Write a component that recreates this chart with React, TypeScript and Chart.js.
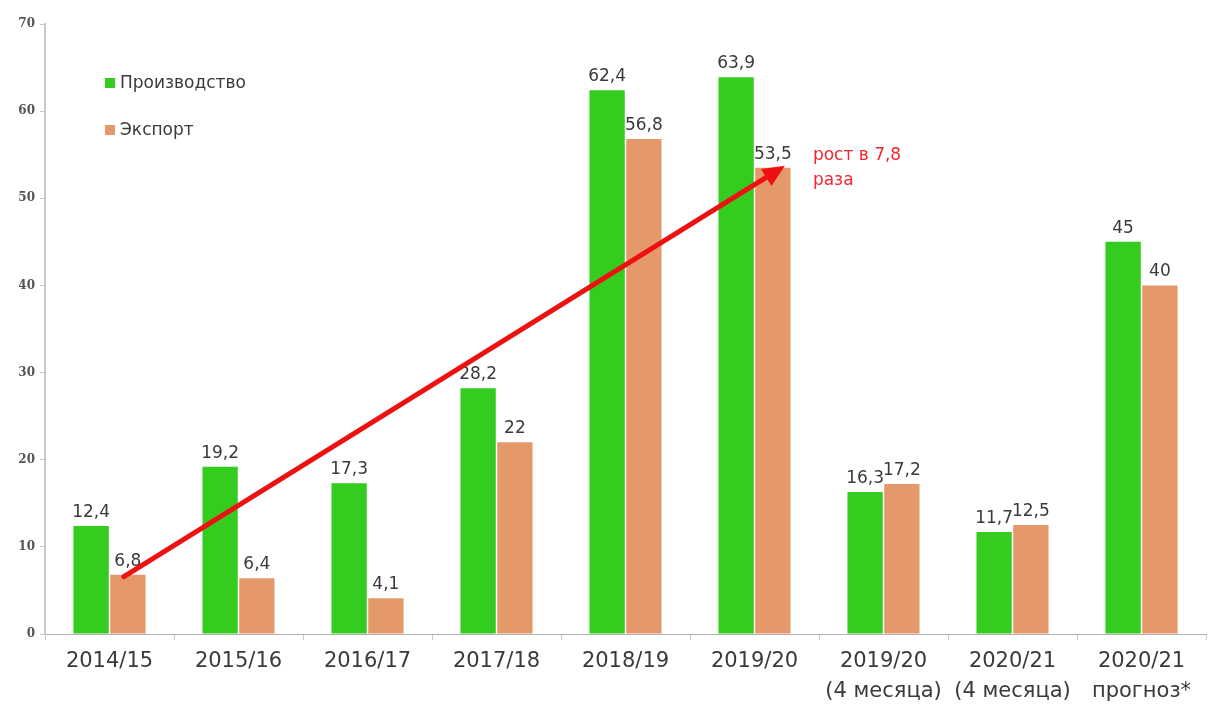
import React, { useEffect, useRef } from "react";
import { Chart, registerables } from "chart.js";

Chart.register(...registerables);

const categories: string[][] = [
  ["2014/15"],
  ["2015/16"],
  ["2016/17"],
  ["2017/18"],
  ["2018/19"],
  ["2019/20"],
  ["2019/20", "(4 месяца)"],
  ["2020/21", "(4 месяца)"],
  ["2020/21", "прогноз*"],
];
const production: number[] = [12.4, 19.2, 17.3, 28.2, 62.4, 63.9, 16.3, 11.7, 45];
const exportVals: number[] = [6.8, 6.4, 4.1, 22, 56.8, 53.5, 17.2, 12.5, 40];
const seriesNames: string[] = ["Производство", "Экспорт"];
const arrowFrom = { dataset: 1, index: 0 };
const arrowTo = { dataset: 1, index: 5 };
const arrowText: string[] = ["рост в 7,8", "раза"];

const GREEN = "#33CC1F";
const ORANGE = "#E5996A";
const RED = "#EE1111";
const TEXT = "#3a3a3a";
const FONT = "'DejaVu Sans', sans-serif";

const fmt = (v: number) => String(v).replace(".", ",");

const overlayPlugin = {
  id: "overlay",
  afterDatasetsDraw(chart: any) {
    const ctx = chart.ctx as CanvasRenderingContext2D;
    ctx.save();
    // value labels
    ctx.font = `17px ${FONT}`;
    ctx.fillStyle = TEXT;
    ctx.textAlign = "center";
    ctx.textBaseline = "bottom";
    chart.data.datasets.forEach((ds: any, di: number) => {
      const meta = chart.getDatasetMeta(di);
      meta.data.forEach((bar: any, i: number) => {
        ctx.fillText(fmt(ds.data[i]), bar.x, bar.y - 5);
      });
    });
    // arrow
    const a = chart.getDatasetMeta(arrowFrom.dataset).data[arrowFrom.index];
    const b = chart.getDatasetMeta(arrowTo.dataset).data[arrowTo.index];
    const x1 = a.x - 4, y1 = a.y + 2;
    const x2 = b.x + 12, y2 = b.y - 2;
    const ang = Math.atan2(y2 - y1, x2 - x1);
    const headLen = 22, headW = 10;
    const bx = x2 - headLen * Math.cos(ang);
    const by = y2 - headLen * Math.sin(ang);
    ctx.strokeStyle = RED;
    ctx.lineWidth = 5;
    ctx.lineCap = "round";
    ctx.beginPath();
    ctx.moveTo(x1, y1);
    ctx.lineTo(bx, by);
    ctx.stroke();
    ctx.fillStyle = RED;
    ctx.beginPath();
    ctx.moveTo(x2, y2);
    ctx.lineTo(bx + headW * Math.sin(ang), by - headW * Math.cos(ang));
    ctx.lineTo(bx - headW * Math.sin(ang), by + headW * Math.cos(ang));
    ctx.closePath();
    ctx.fill();
    // arrow text
    ctx.font = `17px ${FONT}`;
    ctx.fillStyle = "#F0282D";
    ctx.textAlign = "left";
    ctx.textBaseline = "middle";
    ctx.fillText(arrowText[0], b.x + 40, b.y - 12);
    ctx.fillText(arrowText[1], b.x + 40, b.y + 13);
    // legend
    const colors = [GREEN, ORANGE];
    ctx.font = `17px ${FONT}`;
    ctx.fillStyle = TEXT;
    seriesNames.forEach((name, i) => {
      const y = 83 + i * 47;
      ctx.fillStyle = colors[i];
      ctx.fillRect(105, y - 5, 10, 10);
      ctx.fillStyle = TEXT;
      ctx.fillText(name, 120, y + 1);
    });
    ctx.restore();
  },
};

export default function App() {
  const ref = useRef<HTMLCanvasElement>(null);
  useEffect(() => {
    document.body.style.margin = "0";
    const chart = new Chart(ref.current!, {
      type: "bar",
      data: {
        labels: categories,
        datasets: [
          { label: seriesNames[0], data: production, backgroundColor: GREEN },
          { label: seriesNames[1], data: exportVals, backgroundColor: ORANGE },
        ],
      },
      options: {
        animation: false,
        responsive: false,
        layout: { padding: { top: 24, right: 4, left: 0, bottom: 0 } },
        plugins: { legend: { display: false }, tooltip: { enabled: false } },
        datasets: { bar: { categoryPercentage: 0.57, barPercentage: 0.96 } },
        scales: {
          x: {
            grid: {
              display: true,
              drawOnChartArea: false,
              drawTicks: true,
              tickLength: 6,
              color: "#c8c8c8",
              offset: true,
            },
            border: { color: "#b0b0b0", width: 1 },
            ticks: {
              color: TEXT,
              font: { family: FONT, size: 21, lineHeight: 1.4 },
              maxRotation: 0,
              autoSkip: false,
              padding: 7,
            },
            afterFit: (s: any) => {
              s.height = 73;
            },
          },
          y: {
            min: 0,
            max: 70,
            grid: { display: true, drawOnChartArea: false, tickLength: 5, color: "#c8c8c8" },
            border: { color: "#c8c8c8", width: 2 },
            ticks: {
              stepSize: 10,
              color: "#555",
              font: { family: "'DejaVu Serif', serif", size: 12, weight: "bold" },
              padding: 5,
            },
            afterFit: (s: any) => {
              s.width = 45;
            },
          },
        },
      } as any,
      plugins: [overlayPlugin],
    });
    return () => chart.destroy();
  }, []);
  return (
    <div style={{ position: "fixed", left: 0, top: 0, width: 1210, height: 707, background: "#fff" }}>
      <canvas ref={ref} width={1210} height={707} style={{ width: 1210, height: 707 }} />
    </div>
  );
}
